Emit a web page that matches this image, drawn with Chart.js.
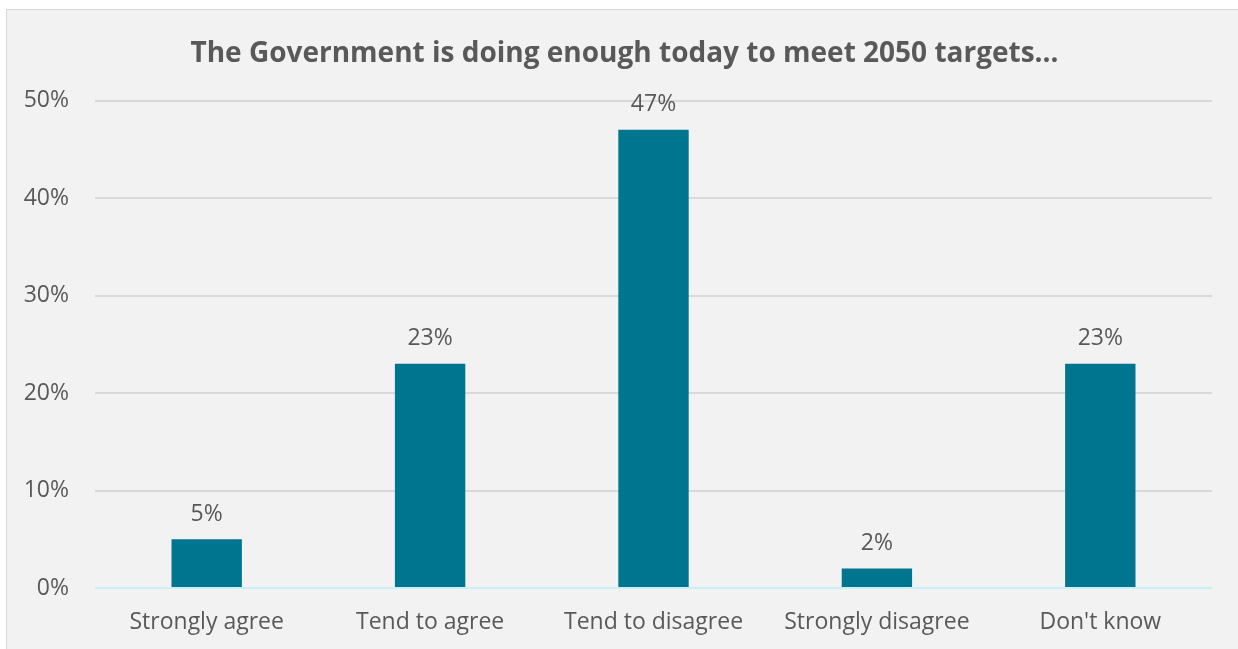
<!DOCTYPE html>
<html>
<head>
<meta charset="utf-8">
<script src="https://cdn.jsdelivr.net/npm/chart.js@4.4.1/dist/chart.umd.min.js"></script>
<style>
  html, body { margin: 0; padding: 0; background: #fff; width: 1238px; height: 649px; overflow: hidden; }
  #panel {
    position: absolute; left: 6px; top: 9px; width: 1232px; height: 640px;
    background: #f2f2f2; border-left: 1px solid #d9d9d9; border-top: 1px solid #d9d9d9;
    box-sizing: border-box;
  }
  #chart { display: block; }
</style>
</head>
<body>
<div id="panel"><canvas id="chart" width="1231" height="639"></canvas></div>
<script>
// Survey: "The Government is doing enough today to meet 2050 targets..."
const categories = ['Strongly agree', 'Tend to agree', 'Tend to disagree', 'Strongly disagree', "Don't know"];
const shares = [5, 23, 47, 2, 23];
const yTicks = [0, 10, 20, 30, 40, 50];

const FONT = "'Open Sans', 'Noto Sans', sans-serif";
const TEXT = '#595959';

// draws the "%" labels above each bar
const barLabels = {
  id: 'barLabels',
  afterDatasetsDraw(chart) {
    const ctx = chart.ctx;
    const meta = chart.getDatasetMeta(0);
    ctx.save();
    ctx.font = `23px ${FONT}`;
    ctx.fillStyle = TEXT;
    ctx.textAlign = 'center';
    ctx.textBaseline = 'middle';
    meta.data.forEach((bar, i) => {
      ctx.fillText(shares[i] + '%', bar.x, bar.y - 25);
    });
    ctx.restore();
  }
};

// title is centred on the whole panel, not on the padded box
const centreTitle = {
  id: 'centreTitle',
  afterLayout(chart) {
    const t = chart.titleBlock;
    if (!t) return;
    const shift = chart.width / 2 - (t.left + t.right) / 2 + 2;
    t.left += shift;
    t.right += shift;
  }
};

new Chart(document.getElementById('chart'), {
  type: 'bar',
  data: {
    labels: categories,
    datasets: [{
      data: shares,
      backgroundColor: '#00758f',
      categoryPercentage: 1,
      barPercentage: 0.315
    }]
  },
  options: {
    responsive: false,
    animation: false,
    layout: { padding: { left: 0, right: 26, top: 0, bottom: 0 } },
    plugins: {
      legend: { display: false },
      tooltip: { enabled: false },
      title: {
        display: true,
        text: 'The Government is doing enough today to meet 2050 targets…',
        color: TEXT,
        font: { family: FONT, size: 28, weight: 'bold' },
        padding: { top: 27, bottom: 30 }
      }
    },
    scales: {
      x: {
        afterFit: s => { s.height = 61; },
        grid: { display: false, drawTicks: false },
        border: { display: false },
        ticks: { color: TEXT, font: { family: FONT, size: 23 }, padding: 21 }
      },
      y: {
        min: 0, max: 50,
        afterBuildTicks: s => { s.ticks = yTicks.map(v => ({ value: v })); },
        afterFit: s => { s.width = 88; },
        grid: {
          drawTicks: false,
          color: ctx => ctx.tick && ctx.tick.value === 0 ? '#c9eff7' : '#d9d9d9',
          lineWidth: 2
        },
        border: { display: false },
        ticks: {
          color: TEXT, font: { family: FONT, size: 23 }, padding: 26,
          callback: v => v + '%'
        }
      }
    }
  },
  plugins: [barLabels, centreTitle]
});
</script>
</body>
</html>
